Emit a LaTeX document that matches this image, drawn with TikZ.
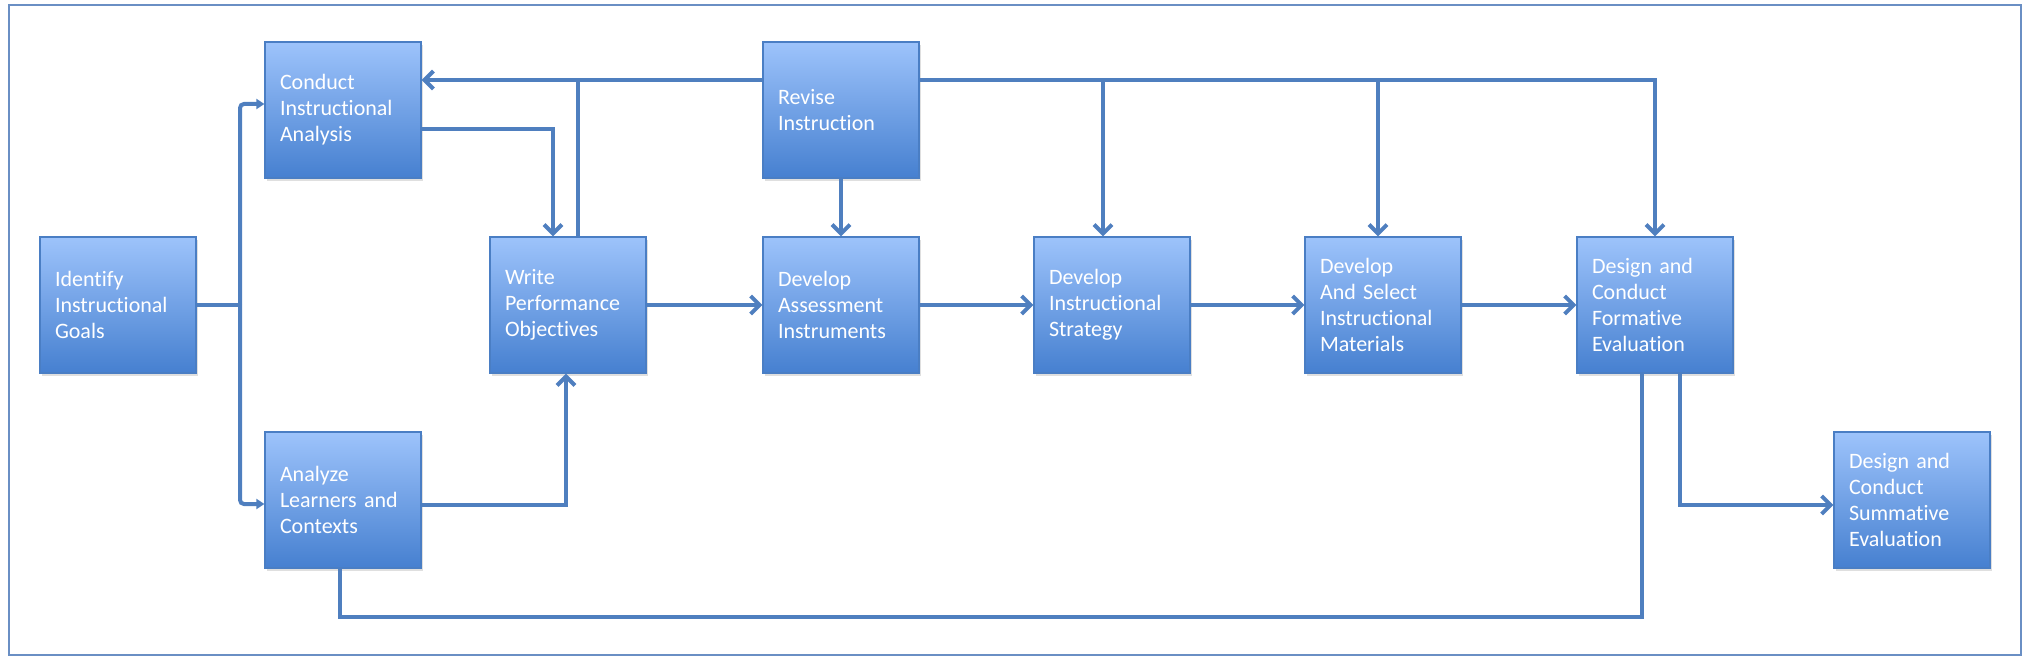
\documentclass[tikz,border=0pt]{standalone}
\usepackage{fontspec}
\setmainfont{Carlito}[Ligatures={CommonOff}]
\usetikzlibrary{arrows.meta,shadows}
\definecolor{ln}{HTML}{4F7FBF}
\definecolor{btop}{HTML}{9DC3FB}
\definecolor{bbot}{HTML}{4680D0}
\definecolor{bbd}{HTML}{4A7EC4}
\definecolor{frm}{HTML}{6A8FC4}
\begin{document}
\begin{tikzpicture}[x=0.5pt,y=-0.5pt,
  box/.style={rectangle, draw=bbd, line width=0.6pt, top color=btop, bottom color=bbot,
    minimum width=78pt, minimum height=68pt, text width=63pt, inner xsep=7.5pt, inner ysep=0pt,
    align=left, text=white, font=\fontsize{11}{13}\selectfont,
    drop shadow={opacity=0.25, shadow xshift=1pt, shadow yshift=-1.5pt}},
  conn/.style={draw=ln, line width=2pt},
  arr/.style={conn, -{Straight Barb[length=4.5pt,width=9pt]}},
  sarr/.style={conn, -{Triangle[length=4pt,width=5pt]}, rounded corners=2pt}]
\useasboundingbox (0,0) rectangle (2030,668);
\draw[frm, line width=1pt] (9,5) rectangle (2021,655);

\node[box] (idg) at (118,305) {Identify\\Instructional\\Goals};
\node[box] (cia) at (343,110) {Conduct\\Instructional\\Analysis};
\node[box] (alc) at (343,500) {Analyze\\Learners and\\Contexts};
\node[box] (wpo) at (568,305) {Write\\Performance\\Objectives};
\node[box] (rev) at (841,110) {Revise\\Instruction};
\node[box] (dai) at (841,305) {Develop\\Assessment\\Instruments};
\node[box] (dis) at (1112,305) {Develop\\Instructional\\Strategy};
\node[box] (dsm) at (1383,305) {Develop\\And Select\\Instructional\\Materials};
\node[box] (dcf) at (1655,305) {Design and\\Conduct\\Formative\\Evaluation};
\node[box] (dcs) at (1912,500) {Design and\\Conduct\\Summative\\Evaluation};

\coordinate (j1) at (240,305);
\draw[conn] (idg.east) -- (j1);
\draw[sarr] (j1) |- (cia.west |- 0,104);
\draw[sarr] (j1) |- (alc.west |- 0,504);

\draw[arr] (rev.west |- 0,80) -- (cia.east |- 0,80);
\draw[conn] (wpo.north -| 578,0) -- (578,80);
\draw[arr] (rev.east |- 0,80) -| (dcf.north);
\draw[arr] (1103,80) -- (dis.north -| 1103,0);
\draw[arr] (1378,80) -- (dsm.north -| 1378,0);
\draw[arr] (rev.south) -- (dai.north);

\draw[arr] (cia.east |- 0,129) -| (wpo.north -| 553,0);
\draw[arr] (alc.east |- 0,505) -| (wpo.south -| 566,0);

\draw[arr] (wpo) -- (dai);
\draw[arr] (dai) -- (dis);
\draw[arr] (dis) -- (dsm);
\draw[arr] (dsm) -- (dcf);

\draw[arr] (dcf.south -| 1680,0) |- (dcs.west |- 0,505);
\draw[conn] (dcf.south -| 1642,0) |- (340,617) -- (alc.south -| 340,0);
\end{tikzpicture}
\end{document}
